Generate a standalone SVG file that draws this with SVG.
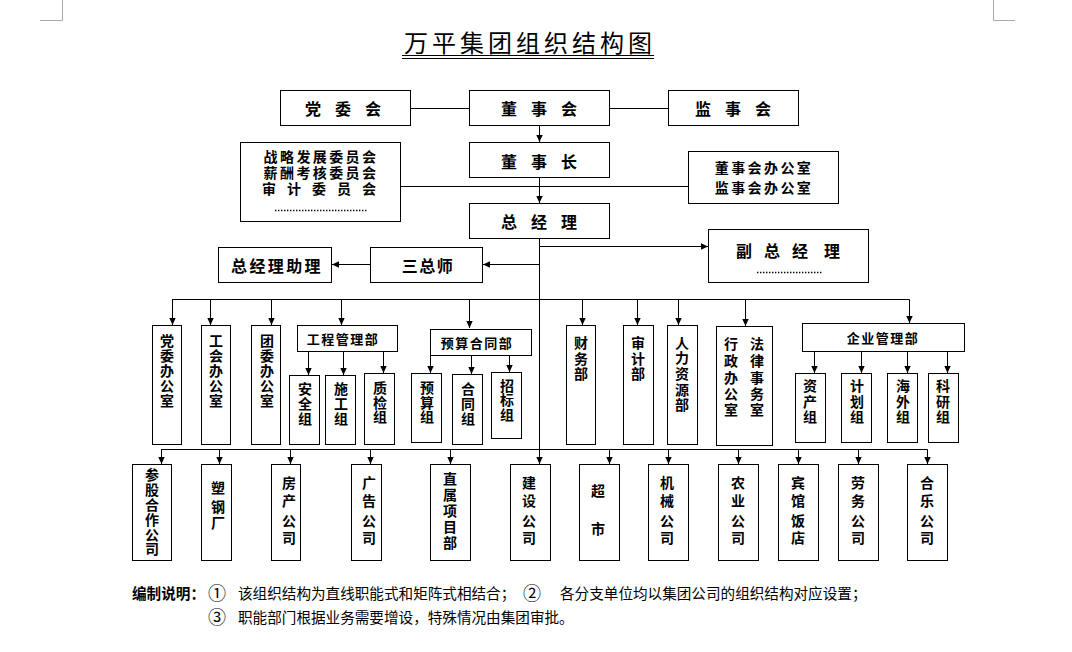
<svg xmlns="http://www.w3.org/2000/svg" width="1072" height="652" viewBox="0 0 1072 652">
<style>
.b{fill:#fff;stroke:#000;stroke-width:1}
text{font-family:"Noto Sans CJK SC","Noto Sans",sans-serif;fill:#000}
.t{font-weight:700;font-size:14px;text-anchor:middle;dominant-baseline:central}
.h{font-size:16px}
.m{font-size:14px;letter-spacing:2.4px}
.s{font-size:13px;letter-spacing:1.5px}
.c{stroke:#000;stroke-width:1;fill:none}
.ar{stroke:#000;stroke-width:1;fill:none;marker-end:url(#a)}
.d{stroke:#000;stroke-width:1.6;stroke-dasharray:1.4 1.6}
.n{font-size:14.6px;dominant-baseline:central}
.o{font-size:18px;text-anchor:middle;dominant-baseline:central}
.corner{stroke:#aaa;stroke-width:1;fill:none}
</style>
<defs>
<marker id="a" markerWidth="8" markerHeight="8" refX="7" refY="4" orient="auto" markerUnits="userSpaceOnUse"><path d="M0,0.8 L7,4 L0,7.2z" fill="#000"/></marker>
</defs>
<path class="corner" d="M62.5,0 V20.5 H40 M993.5,0 V20.5 H1015"/>
<g id="title">
<text x="528" y="41" font-size="24" text-anchor="middle" dominant-baseline="central" textLength="248" lengthAdjust="spacing">万平集团组织结构图</text>
<path class="c" d="M402,55.5 H654 M402,58.5 H654" stroke-width="1.2"/>
</g>
<g id="connectors">
<path class="c" d="M410.5,108.5 H469.5 M609.5,108.5 H668.5"/>
<path class="ar" d="M539.5,125.5 V142"/>
<path class="c" d="M400.5,186.5 H688.5"/>
<path class="ar" d="M539.5,177.5 V203"/>
<path class="ar" d="M539.5,238.5 V464"/>
<path class="ar" d="M539.5,246.5 H708"/>
<path class="ar" d="M539.5,264.5 H483"/>
<path class="ar" d="M370.5,264.5 H332"/>
<path class="c" d="M172,299.5 H909.5"/>
<path class="ar" d="M172.5,299.5 V325"/>
<path class="ar" d="M210.5,299.5 V325"/>
<path class="ar" d="M271.5,299.5 V325"/>
<path class="ar" d="M341.5,299.5 V325"/>
<path class="ar" d="M469.5,299.5 V328"/>
<path class="ar" d="M582.5,299.5 V325"/>
<path class="ar" d="M637.5,299.5 V325"/>
<path class="ar" d="M678.5,299.5 V325"/>
<path class="ar" d="M745.5,299.5 V326"/>
<path class="ar" d="M909.5,299.5 V323"/>
<path class="ar" d="M308.5,352 V375"/>
<path class="ar" d="M343.5,352 V375"/>
<path class="ar" d="M383.5,352 V373"/>
<path class="ar" d="M430.5,355 V373"/>
<path class="ar" d="M471.5,355 V374"/>
<path class="ar" d="M509.5,355 V372"/>
<path class="ar" d="M814.5,351 V373"/>
<path class="ar" d="M861.5,351 V373"/>
<path class="ar" d="M907.5,351 V373"/>
<path class="ar" d="M947.5,351 V373"/>
<path class="c" d="M161,449.5 H927.5"/>
<path class="ar" d="M161.5,449.5 V464"/>
<path class="ar" d="M219.5,449.5 V464"/>
<path class="ar" d="M290.5,449.5 V464"/>
<path class="ar" d="M370.5,449.5 V464"/>
<path class="ar" d="M450.5,449.5 V464"/>
<path class="ar" d="M609.5,449.5 V464"/>
<path class="ar" d="M668.5,449.5 V464"/>
<path class="ar" d="M738.5,449.5 V464"/>
<path class="ar" d="M798.5,449.5 V464"/>
<path class="ar" d="M858.5,449.5 V464"/>
<path class="ar" d="M927.5,449.5 V464"/>
</g>
<g id="dangweihui"><rect class="b" x="280.5" y="90.5" width="130" height="35"/><text class="t h" x="313 343 373" y="108">党委会</text></g>
<g id="dongshihui"><rect class="b" x="469.5" y="90.5" width="140" height="35"/><text class="t h" x="509 539 569" y="108">董事会</text></g>
<g id="jianshihui"><rect class="b" x="668.5" y="90.5" width="130" height="35"/><text class="t h" x="703 733 763" y="108">监事会</text></g>
<g id="dongshizhang"><rect class="b" x="469.5" y="142.5" width="140" height="35"/><text class="t h" x="509 539 569" y="161">董事长</text></g>
<g id="weiyuanhui"><rect class="b" x="240.5" y="142.5" width="160" height="79"/>
<text class="t m"><tspan x="321" y="156">战略发展委员会</tspan><tspan x="321" y="172">薪酬考核委员会</tspan><tspan x="269 294 319 344 369" y="188" letter-spacing="0">审计委员会</tspan></text>
<line class="d" x1="275" y1="210.5" x2="367" y2="210.5"/></g>
<g id="bangongshi"><rect class="b" x="688.5" y="151.5" width="150" height="52"/>
<text class="t m"><tspan x="764" y="167">董事会办公室</tspan><tspan x="764" y="187">监事会办公室</tspan></text></g>
<g id="zongjingli"><rect class="b" x="469.5" y="203.5" width="140" height="35"/><text class="t h" x="509 539 569" y="221">总经理</text></g>
<g id="fuzongjingli"><rect class="b" x="708.5" y="229.5" width="160" height="53"/><text class="t h" x="744 772 800 832" y="250">副总经理</text><line class="d" x1="757" y1="272.5" x2="822" y2="272.5"/></g>
<g id="sanzongshi"><rect class="b" x="370.5" y="247.5" width="112" height="35"/><text class="t h" x="428" y="265" letter-spacing="1.5">三总师</text></g>
<g id="zongjinglizhuli"><rect class="b" x="218.5" y="247.5" width="113" height="35"/><text class="t h" x="277" y="265" letter-spacing="2.4">总经理助理</text></g>

<g id="dangwei"><rect class="b" x="152.5" y="325.5" width="29" height="119"/><text class="t" x="167 167 167 167 167" y="340 355 370 385 400">党委办公室</text></g>
<g id="gonghui"><rect class="b" x="201.5" y="325.5" width="29" height="119"/><text class="t" x="216 216 216 216 216" y="340 355 370 385 400">工会办公室</text></g>
<g id="tuanwei"><rect class="b" x="251.5" y="325.5" width="29" height="119"/><text class="t" x="267 267 267 267 267" y="340 355 370 385 400">团委办公室</text></g>
<g id="gongcheng"><rect class="b" x="297.5" y="325.5" width="100" height="26"/><text class="t s" x="343" y="338">工程管理部</text></g>
<g id="anquan"><rect class="b" x="289.5" y="375.5" width="30" height="69"/><text class="t" x="305 305 305" y="388 403 418">安全组</text></g>
<g id="shigong"><rect class="b" x="325.5" y="375.5" width="30" height="69"/><text class="t" x="341 341 341" y="388 403 418">施工组</text></g>
<g id="zhijian"><rect class="b" x="364.5" y="373.5" width="30" height="71"/><text class="t" x="380 380 380" y="387 402 416">质检组</text></g>
<g id="yusuanhetong"><rect class="b" x="430.5" y="329.5" width="101" height="26"/><text class="t s" x="477" y="342">预算合同部</text></g>
<g id="yusuan"><rect class="b" x="411.5" y="373.5" width="30" height="69"/><text class="t" x="427 427 427" y="387 402 416">预算组</text></g>
<g id="hetong"><rect class="b" x="452.5" y="374.5" width="30" height="70"/><text class="t" x="468 468 468" y="388 403 418">合同组</text></g>
<g id="zhaobiao"><rect class="b" x="491.5" y="372.5" width="30" height="66"/><text class="t" x="507 507 507" y="385 399 414">招标组</text></g>
<g id="caiwu"><rect class="b" x="566.5" y="325.5" width="29" height="119"/><text class="t" x="581 581 581" y="342 358 373">财务部</text></g>
<g id="shenji"><rect class="b" x="623.5" y="325.5" width="30" height="119"/><text class="t" x="638 638 638" y="342 358 373">审计部</text></g>
<g id="renli"><rect class="b" x="667.5" y="325.5" width="30" height="119"/><text class="t" x="682 682 682 682 682" y="342 357 373 389 404">人力资源部</text></g>
<g id="xingzheng"><rect class="b" x="716.5" y="326.5" width="56" height="119"/><text class="t" x="731 731 731 731 731" y="343 360 377 393 409">行政办公室</text><text class="t" x="757 757 757 757 757" y="343 360 377 393 409">法律事务室</text></g>
<g id="qiyeguanli"><rect class="b" x="802.5" y="323.5" width="162" height="28"/><text class="t s" x="883" y="337" letter-spacing="2.5">企业管理部</text></g>
<g id="zichan"><rect class="b" x="795.5" y="373.5" width="30" height="69"/><text class="t" x="810 810 810" y="385 401 416">资产组</text></g>
<g id="jihua"><rect class="b" x="841.5" y="373.5" width="30" height="69"/><text class="t" x="857 857 857" y="385 401 416">计划组</text></g>
<g id="haiwai"><rect class="b" x="887.5" y="373.5" width="30" height="69"/><text class="t" x="903 903 903" y="385 401 416">海外组</text></g>
<g id="keyan"><rect class="b" x="928.5" y="373.5" width="30" height="69"/><text class="t" x="943 943 943" y="385 401 416">科研组</text></g>

<g id="cangu"><rect class="b" x="132.5" y="464.5" width="39" height="96"/><text class="t" x="152 152 152 152 152 152" y="474 489 504 519 534 548">参股合作公司</text></g>
<g id="sugang"><rect class="b" x="201.5" y="464.5" width="30" height="96"/><text class="t" x="218 218 218" y="487 506 522">塑钢厂</text></g>
<g id="fangchan"><rect class="b" x="271.5" y="464.5" width="29" height="96"/><text class="t" x="289 289 289 289" y="482 500 520 537">房产公司</text></g>
<g id="guanggao"><rect class="b" x="351.5" y="464.5" width="30" height="96"/><text class="t" x="369 369 369 369" y="482 500 520 537">广告公司</text></g>
<g id="zhishu"><rect class="b" x="430.5" y="464.5" width="40" height="96"/><text class="t" x="450 450 450 450 450" y="478 494 510 526 542">直属项目部</text></g>
<g id="jianshe"><rect class="b" x="510.5" y="464.5" width="40" height="96"/><text class="t" x="529 529 529 529" y="482 500 520 537">建设公司</text></g>
<g id="chaoshi"><rect class="b" x="579.5" y="464.5" width="40" height="96"/><text class="t" x="598 598" y="490 528">超市</text></g>
<g id="jixie"><rect class="b" x="648.5" y="464.5" width="40" height="96"/><text class="t" x="667 667 667 667" y="482 500 520 537">机械公司</text></g>
<g id="nongye"><rect class="b" x="718.5" y="464.5" width="40" height="96"/><text class="t" x="738 738 738 738" y="482 500 520 537">农业公司</text></g>
<g id="binguan"><rect class="b" x="778.5" y="464.5" width="40" height="96"/><text class="t" x="798 798 798 798" y="482 500 520 537">宾馆饭店</text></g>
<g id="laowu"><rect class="b" x="838.5" y="464.5" width="40" height="96"/><text class="t" x="858 858 858 858" y="482 500 520 537">劳务公司</text></g>
<g id="hele"><rect class="b" x="907.5" y="464.5" width="40" height="96"/><text class="t" x="927 927 927 927" y="482 500 520 537">合乐公司</text></g>

<g id="notes">
<text class="n" x="132" y="592" font-weight="700">编制说明：</text>
<text class="o" x="217" y="592">①</text>
<text class="n" x="238" y="592">该组织结构为直线职能式和矩阵式相结合；</text>
<text class="o" x="532" y="592">②</text>
<text class="n" x="560" y="592">各分支单位均以集团公司的组织结构对应设置；</text>
<text class="o" x="217" y="616">③</text>
<text class="n" x="238" y="616">职能部门根据业务需要增设，特殊情况由集团审批。</text>
</g>
</svg>
